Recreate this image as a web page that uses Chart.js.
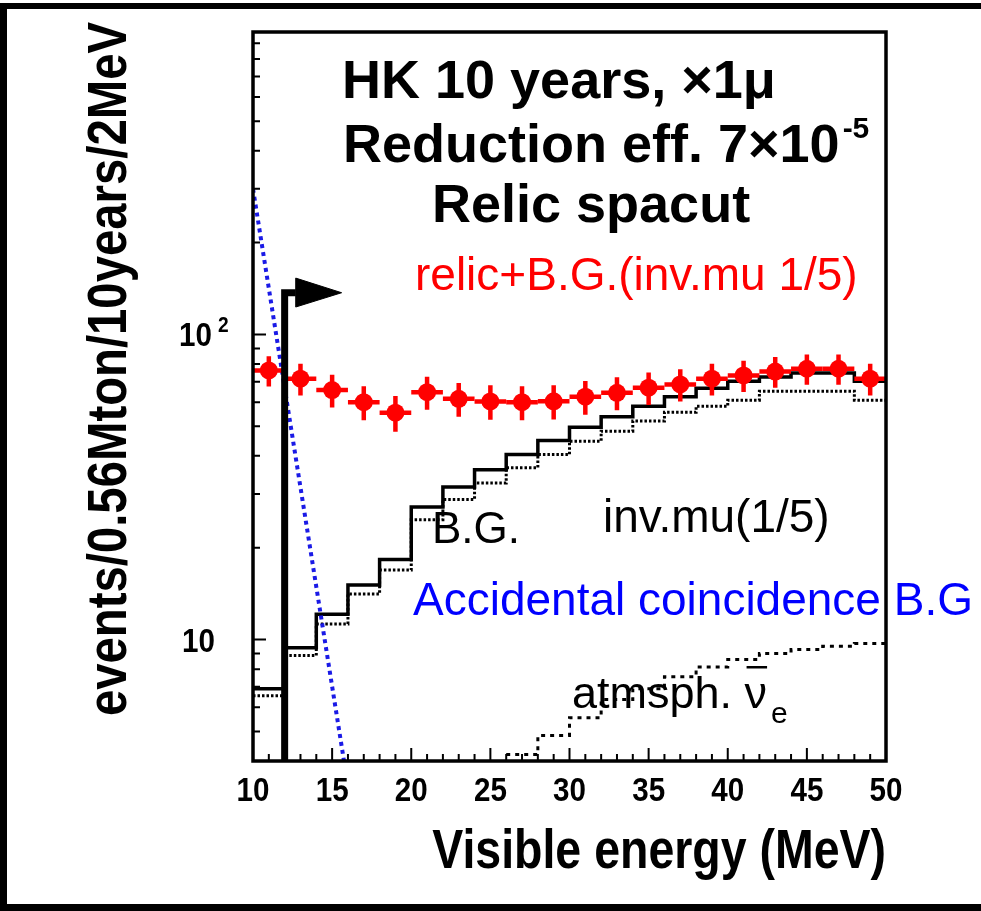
<!DOCTYPE html>
<html>
<head>
<meta charset="utf-8">
<title>Relic spacut spectrum</title>
<script src="https://cdn.jsdelivr.net/npm/chart.js@4.4.1/dist/chart.umd.min.js"></script>
<style>
  html, body { margin: 0; padding: 0; background: #fff; }
  #wrap { width: 981px; height: 911px; }
</style>
</head>
<body>
<div id="wrap"><canvas id="relicChart" width="981" height="911"></canvas></div>
<script>
// 2 MeV bins between 10 and 50 MeV
const binEdges = [10, 12, 14, 16, 18, 20, 22, 24, 26, 28, 30, 32, 34, 36, 38, 40, 42, 44, 46, 48, 50];
const binCenters = [11, 13, 15, 17, 19, 21, 23, 25, 27, 29, 31, 33, 35, 37, 39, 41, 43, 45, 47, 49];

// relic + B.G. (inv.mu 1/5), with statistical errors
const relicPlusBG = [76.2, 71.6, 65.7, 60.0, 55.4, 64.7, 61.5, 60.3, 60.0, 60.4, 62.5, 64.4, 66.9, 68.6, 71.6, 73.4, 75.6, 77.2, 77.2, 71.6];
const relicPlusBGErr = [8.7, 8.5, 8.1, 7.7, 7.4, 8.0, 7.8, 7.8, 7.7, 7.8, 7.9, 8.0, 8.2, 8.3, 8.5, 8.6, 8.7, 8.8, 8.8, 8.5];

// total background (solid) and invisible muon part (dotted)
const totalBG = [6.9, 9.4, 12.1, 15.1, 18.3, 27.2, 31.6, 36.0, 40.4, 44.9, 49.6, 53.7, 58.2, 62.5, 66.6, 70.3, 72.6, 74.8, 74.8, 70.3];
const invMuBG = [6.55, 8.87, 11.25, 14.1, 16.9, 24.7, 28.8, 32.6, 36.6, 40.4, 44.7, 48.2, 52.0, 55.6, 58.2, 60.9, 65.2, 65.2, 65.2, 60.9];

// atmospheric nu_e (only visible above the axis floor)
const atmNueBG = [null, null, null, null, null, null, null, null, 4.2, 4.85, 5.54, 6.36, 6.9, 7.56, 8.13, 8.6, 9.0, 9.27, 9.51, 9.7];

// accidental coincidence B.G. (exponential fall-off)
const accidentalE = [10, 15.75];
const accidentalRate = [300, 4];

// energy cut marker
const cutLineE = [12, 12, 12.7];
const cutLineY = [4, 137, 137];
const arrowHeadE = [12.7, 15.6, 12.7, 12.7];
const arrowHeadY = [153, 137, 123, 153];

const xTicks = [10, 15, 20, 25, 30, 35, 40, 45, 50];
const yMajor = [10, 100];
const yMin = 4, yMax = 980;

const FONT = '"Liberation Sans", Arial, Helvetica, sans-serif';

const histPoints = (vals) => {
  const pts = vals.map((v, i) => ({x: binEdges[i], y: v}));
  pts.push({x: binEdges[binEdges.length - 1], y: vals[vals.length - 1]});
  return pts;
};
const zip = (xs, ys) => xs.map((x, i) => ({x: x, y: ys[i]}));

// draw a string; sx < 1 squeezes it horizontally (axis fonts are condensed)
function text(ctx, str, x, y, size, opts = {}) {
  const sx = opts.sx || 1;
  ctx.save();
  ctx.font = (opts.bold ? 'bold ' : '') + size + 'px ' + FONT;
  ctx.fillStyle = opts.color || '#000';
  ctx.textAlign = opts.align || 'left';
  ctx.textBaseline = 'alphabetic';
  ctx.translate(x, y);
  ctx.scale(sx, 1);
  ctx.fillText(str, 0, 0);
  const w = ctx.measureText(str).width * sx;
  ctx.restore();
  return w;
}

// red error bars, drawn under the markers
const errorBars = {
  id: 'errorBars',
  beforeDatasetDraw(chart, args) {
    if (chart.data.datasets[args.index].label !== 'relic') return;
    const {ctx, chartArea: a, scales: {x, y}} = chart;
    ctx.save();
    ctx.beginPath();
    ctx.rect(a.left, a.top, a.width, a.height);
    ctx.clip();
    ctx.strokeStyle = '#ff0000';
    ctx.lineWidth = 4.5;
    relicPlusBG.forEach((v, i) => {
      const px = x.getPixelForValue(binCenters[i]);
      const py = y.getPixelForValue(v);
      ctx.beginPath();
      ctx.moveTo(x.getPixelForValue(binEdges[i]), py);
      ctx.lineTo(x.getPixelForValue(binEdges[i + 1]), py);
      ctx.moveTo(px, y.getPixelForValue(v + relicPlusBGErr[i]));
      ctx.lineTo(px, y.getPixelForValue(v - relicPlusBGErr[i]));
      ctx.stroke();
    });
    ctx.restore();
  }
};

// ROOT-style frame, inward ticks, labels and annotations
const frameDecor = {
  id: 'frameDecor',
  afterDatasetsDraw(chart) {
    const {ctx, chartArea: a, scales: {x, y}} = chart;
    ctx.save();

    // annotations
    text(ctx, 'HK 10 years, \u00d71\u03bc', 342, 98, 54, {bold: true});
    let w = text(ctx, 'Reduction eff. 7\u00d710', 343, 162, 54, {bold: true});
    text(ctx, '-5', 343 + w + 3, 138, 30, {bold: true});
    text(ctx, 'Relic spacut', 432, 222, 54, {bold: true});
    text(ctx, 'relic+B.G.(inv.mu 1/5)', 415, 290, 46, {color: '#ff0000'});
    text(ctx, 'B.G.', 432, 543, 44);
    text(ctx, 'inv.mu(1/5)', 603, 532, 46);
    text(ctx, 'Accidental coincidence B.G', 413, 615, 46, {color: '#0000ff'});
    w = text(ctx, 'atmsph. ', 572, 708, 45);
    const nuW = text(ctx, '\u03bd', 572 + w, 708, 45);
    ctx.fillStyle = '#000';
    ctx.fillRect(572 + w + 2, 666, nuW - 2, 2.5);
    text(ctx, 'e', 572 + w + nuW + 4, 723, 30);

    // plot frame
    ctx.strokeStyle = '#000';
    ctx.lineWidth = 3.5;
    ctx.strokeRect(a.left, a.top, a.width, a.height);

    // x ticks: major every 5 MeV, minor every 1 MeV
    ctx.lineWidth = 2;
    ctx.beginPath();
    for (let e = x.min; e <= x.max; e++) {
      const px = x.getPixelForValue(e);
      const len = xTicks.includes(e) ? 13 : 7;
      ctx.moveTo(px, a.bottom);
      ctx.lineTo(px, a.bottom - len);
    }
    // y ticks: decades long, 2..9 multiples short
    for (let dec = 1; dec <= 100; dec *= 10) {
      for (let m = 1; m <= 9; m++) {
        const v = dec * m;
        if (v < y.min || v > y.max) continue;
        const py = y.getPixelForValue(v);
        const len = yMajor.includes(v) ? 13 : 7;
        ctx.moveTo(a.left, py);
        ctx.lineTo(a.left + len, py);
      }
    }
    ctx.stroke();

    // x tick labels
    xTicks.forEach(e => {
      text(ctx, String(e), x.getPixelForValue(e), a.bottom + 40, 34, {bold: true, align: 'center', sx: 0.87});
    });
    // y tick labels
    text(ctx, '10', a.left - 38, y.getPixelForValue(10) + 12, 34, {bold: true, align: 'right', sx: 0.87});
    text(ctx, '10', a.left - 41, y.getPixelForValue(100) + 12, 34, {bold: true, align: 'right', sx: 0.87});
    text(ctx, '2', a.left - 35, y.getPixelForValue(100) - 2, 22, {bold: true, sx: 0.87});

    // axis titles
    text(ctx, 'Visible energy (MeV)', a.right, 868, 56, {bold: true, align: 'right', sx: 0.83});
    ctx.save();
    ctx.translate(126, 22);
    ctx.rotate(-Math.PI / 2);
    text(ctx, 'events/0.56Mton/10years/2MeV', 0, 0, 55, {bold: true, align: 'right', sx: 0.86});
    ctx.restore();

    // outer border
    ctx.fillStyle = '#000';
    ctx.fillRect(0, 3, chart.width, 6);
    ctx.fillRect(0, 3, 7, chart.height - 3);
    ctx.fillRect(0, chart.height - 7, chart.width, 7);
    ctx.restore();
  }
};

new Chart(document.getElementById('relicChart'), {
  type: 'line',
  data: {
    datasets: [
      {
        label: 'cut',
        data: zip(cutLineE, cutLineY),
        borderColor: '#000',
        borderWidth: 7,
        borderCapStyle: 'butt',
        borderJoinStyle: 'miter',
        pointRadius: 0,
        order: 1
      },
      {
        label: 'cutHead',
        data: zip(arrowHeadE, arrowHeadY),
        borderColor: '#000',
        backgroundColor: '#000',
        borderWidth: 1,
        fill: 'shape',
        pointRadius: 0,
        order: 1
      },
      {
        label: 'relic',
        data: zip(binCenters, relicPlusBG),
        showLine: false,
        pointRadius: 9,
        pointBackgroundColor: '#ff0000',
        pointBorderWidth: 0,
        order: 2
      },
      {
        label: 'accidental',
        data: zip(accidentalE, accidentalRate),
        borderColor: '#1a1ae6',
        borderWidth: 4,
        borderDash: [4, 4],
        pointRadius: 0,
        order: 3
      },
      {
        label: 'total B.G.',
        data: histPoints(totalBG),
        stepped: true,
        borderColor: '#000',
        borderWidth: 3.5,
        pointRadius: 0,
        order: 4
      },
      {
        label: 'inv.mu',
        data: histPoints(invMuBG),
        stepped: true,
        borderColor: '#000',
        borderWidth: 3,
        borderDash: [2.5, 2],
        pointRadius: 0,
        order: 5
      },
      {
        label: 'atm nue',
        data: histPoints(atmNueBG),
        stepped: true,
        borderColor: '#000',
        borderWidth: 3,
        borderDash: [4, 5],
        pointRadius: 0,
        order: 6
      }
    ]
  },
  options: {
    responsive: false,
    animation: false,
    devicePixelRatio: 1,
    events: [],
    layout: { padding: { left: 253, right: 95, top: 32, bottom: 150 } },
    plugins: { legend: { display: false }, tooltip: { enabled: false } },
    scales: {
      x: { type: 'linear', min: 10, max: 50, display: false },
      y: { type: 'logarithmic', min: yMin, max: yMax, display: false }
    }
  },
  plugins: [errorBars, frameDecor]
});
</script>
</body>
</html>
